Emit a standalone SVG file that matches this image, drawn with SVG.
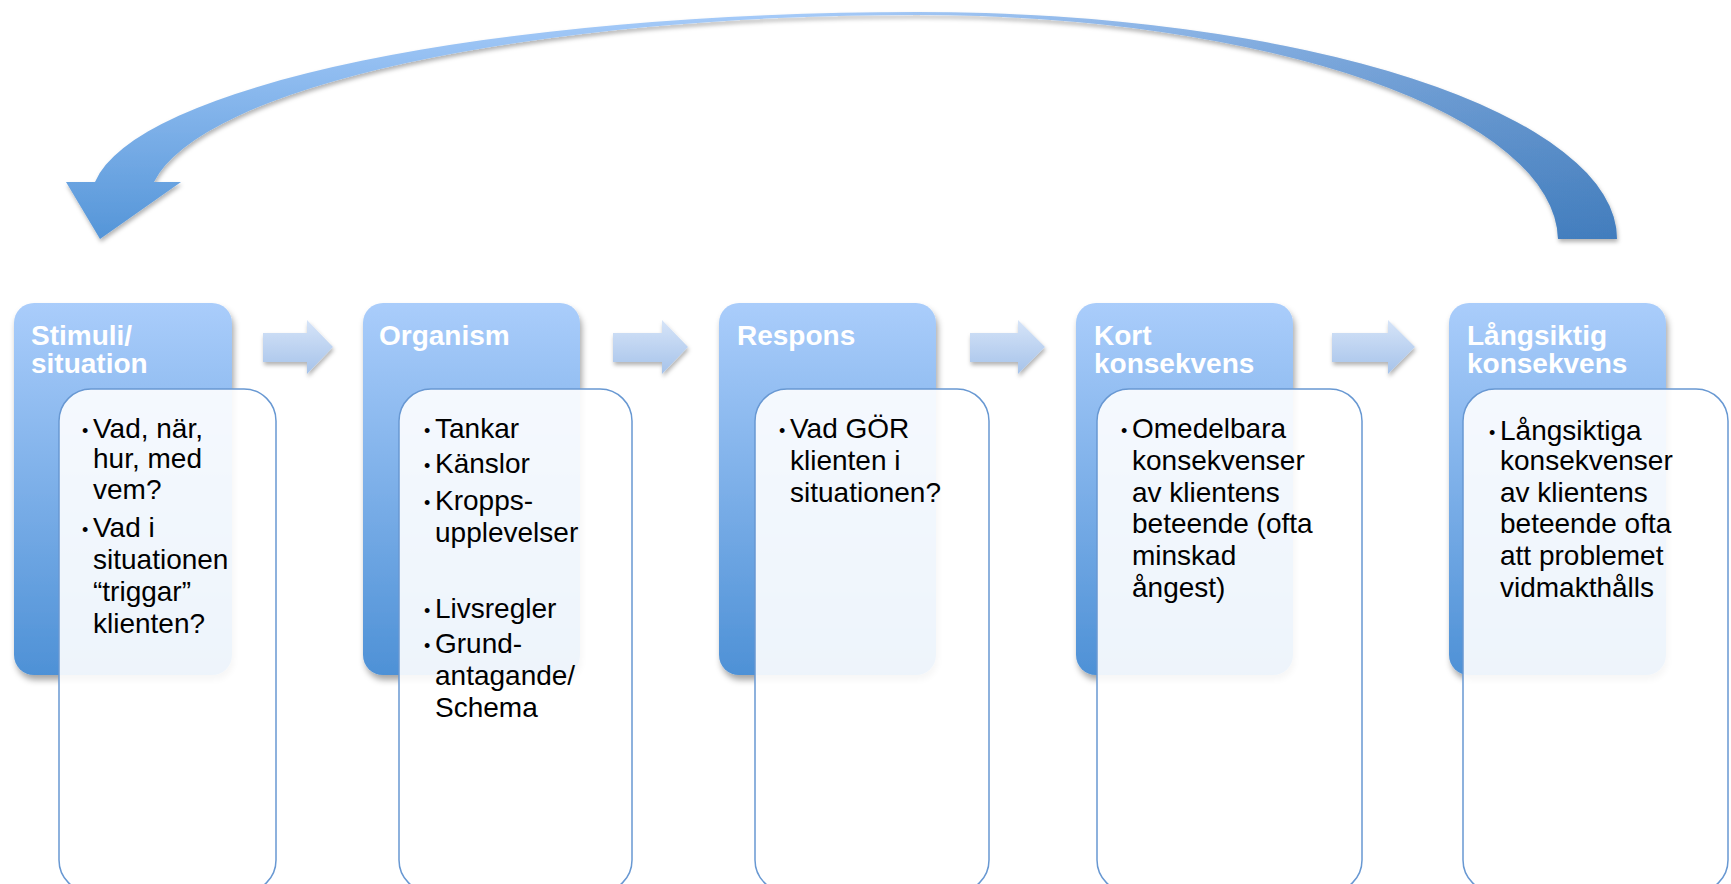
<svg xmlns="http://www.w3.org/2000/svg" width="1731" height="884" viewBox="0 0 1731 884">
<defs>
  <linearGradient id="gBlue" x1="0" y1="0" x2="0" y2="1">
    <stop offset="0" stop-color="#aacdfb"/>
    <stop offset="1" stop-color="#4e91d6"/>
  </linearGradient>
  <linearGradient id="gSmall" x1="0" y1="0" x2="0" y2="1">
    <stop offset="0" stop-color="#d6e4f8"/>
    <stop offset="1" stop-color="#a6c3ea"/>
  </linearGradient>
  <linearGradient id="gCurveV" gradientUnits="userSpaceOnUse" x1="0" y1="10" x2="0" y2="240">
    <stop offset="0" stop-color="#a6cbf9"/>
    <stop offset="1" stop-color="#5495d8"/>
  </linearGradient>
  <linearGradient id="gCurveH" gradientUnits="userSpaceOnUse" x1="800" y1="0" x2="1620" y2="0">
    <stop offset="0" stop-color="#1f4f8a" stop-opacity="0"/>
    <stop offset="1" stop-color="#1f4f8a" stop-opacity="0.35"/>
  </linearGradient>
  <filter id="shBox" x="-10%" y="-10%" width="130%" height="130%">
    <feDropShadow dx="2" dy="5" stdDeviation="3" flood-color="#000" flood-opacity="0.35"/>
  </filter>
  <filter id="shArrow" x="-10%" y="-20%" width="130%" height="150%">
    <feDropShadow dx="1" dy="3" stdDeviation="2" flood-color="#000" flood-opacity="0.3"/>
  </filter>
  <style>
    .blue { fill: url(#gBlue); filter: url(#shBox); }
    .white { fill: #ffffff; fill-opacity: 0.9; stroke: #6898d2; stroke-width: 1.5; }
    .title { font-family: "Liberation Sans", Arial, sans-serif; font-weight: bold; font-size: 28px; fill: #ffffff; }
    .body { font-family: "Liberation Sans", Arial, sans-serif; font-size: 28px; fill: #000000; }
    .bul { font-family: "Liberation Sans", Arial, sans-serif; font-size: 18px; fill: #000000; }
    .small { fill: url(#gSmall); filter: url(#shArrow); }
  </style>
</defs>

<g id="connectors">
  <g id="loop-arrow" filter="url(#shArrow)">
    <path d="M1617,239 A700,227 0 0 0 917,12 A826,188 0 0 0 95,182 L66,182 L100,239 L181,182 L154,182 A769,190 0 0 1 917,15 A641,226 0 0 1 1558,239 Z" fill="url(#gCurveV)"/>
    <path d="M1617,239 A700,227 0 0 0 917,12 A826,188 0 0 0 95,182 L66,182 L100,239 L181,182 L154,182 A769,190 0 0 1 917,15 A641,226 0 0 1 1558,239 Z" fill="url(#gCurveH)"/>
  </g>
  <path class="small" d="M263,333 H307 V320 L333,347 L307,374 V362 H263 Z"/>
  <path class="small" d="M613,333 H662 V320 L688,347 L662,374 V362 H613 Z"/>
  <path class="small" d="M970,333 H1018 V320 L1045,347 L1018,374 V362 H970 Z"/>
  <path class="small" d="M1332,333 H1388 V320 L1415,347 L1388,374 V362 H1332 Z"/>
</g>

<g id="node-stimuli">
  <rect class="blue" x="14" y="303" width="218" height="372" rx="20"/>
  <text class="title" x="31" y="345">Stimuli/</text>
  <text class="title" x="31" y="373">situation</text>
  <rect class="white" x="59" y="389" width="217" height="503" rx="32"/>
  <text class="bul" x="82" y="437">•</text>
  <text class="body" x="93" y="438">Vad, när,</text>
  <text class="body" x="93" y="468">hur, med</text>
  <text class="body" x="93" y="499">vem?</text>
  <text class="bul" x="82" y="536">•</text>
  <text class="body" x="93" y="537">Vad i</text>
  <text class="body" x="93" y="569">situationen</text>
  <text class="body" x="93" y="601">“triggar”</text>
  <text class="body" x="93" y="633">klienten?</text>
</g>

<g id="node-organism">
  <rect class="blue" x="363" y="303" width="217" height="372" rx="20"/>
  <text class="title" x="379" y="345">Organism</text>
  <rect class="white" x="399" y="389" width="233" height="503" rx="32"/>
  <text class="bul" x="424" y="437">•</text>
  <text class="body" x="435" y="438">Tankar</text>
  <text class="bul" x="424" y="472">•</text>
  <text class="body" x="435" y="473">Känslor</text>
  <text class="bul" x="424" y="509">•</text>
  <text class="body" x="435" y="510">Kropps-</text>
  <text class="body" x="435" y="542">upplevelser</text>
  <text class="bul" x="424" y="617">•</text>
  <text class="body" x="435" y="618">Livsregler</text>
  <text class="bul" x="424" y="652">•</text>
  <text class="body" x="435" y="653">Grund-</text>
  <text class="body" x="435" y="685">antagande/</text>
  <text class="body" x="435" y="717">Schema</text>
</g>

<g id="node-respons">
  <rect class="blue" x="719" y="303" width="217" height="372" rx="20"/>
  <text class="title" x="737" y="345">Respons</text>
  <rect class="white" x="755" y="389" width="234" height="503" rx="32"/>
  <text class="bul" x="779" y="437">•</text>
  <text class="body" x="790" y="438">Vad GÖR</text>
  <text class="body" x="790" y="470">klienten i</text>
  <text class="body" x="790" y="502">situationen?</text>
</g>

<g id="node-kort">
  <rect class="blue" x="1076" y="303" width="217" height="372" rx="20"/>
  <text class="title" x="1094" y="345">Kort</text>
  <text class="title" x="1094" y="373">konsekvens</text>
  <rect class="white" x="1097" y="389" width="265" height="503" rx="32"/>
  <text class="bul" x="1121" y="437">•</text>
  <text class="body" x="1132" y="438">Omedelbara</text>
  <text class="body" x="1132" y="470">konsekvenser</text>
  <text class="body" x="1132" y="502">av klientens</text>
  <text class="body" x="1132" y="533">beteende (ofta</text>
  <text class="body" x="1132" y="565">minskad</text>
  <text class="body" x="1132" y="597">ångest)</text>
</g>

<g id="node-langsiktig">
  <rect class="blue" x="1449" y="303" width="217" height="372" rx="20"/>
  <text class="title" x="1467" y="345">Långsiktig</text>
  <text class="title" x="1467" y="373">konsekvens</text>
  <rect class="white" x="1463" y="389" width="265" height="503" rx="32"/>
  <text class="bul" x="1489" y="439">•</text>
  <text class="body" x="1500" y="440">Långsiktiga</text>
  <text class="body" x="1500" y="470">konsekvenser</text>
  <text class="body" x="1500" y="502">av klientens</text>
  <text class="body" x="1500" y="533">beteende ofta</text>
  <text class="body" x="1500" y="565">att problemet</text>
  <text class="body" x="1500" y="597">vidmakthålls</text>
</g>
</svg>
